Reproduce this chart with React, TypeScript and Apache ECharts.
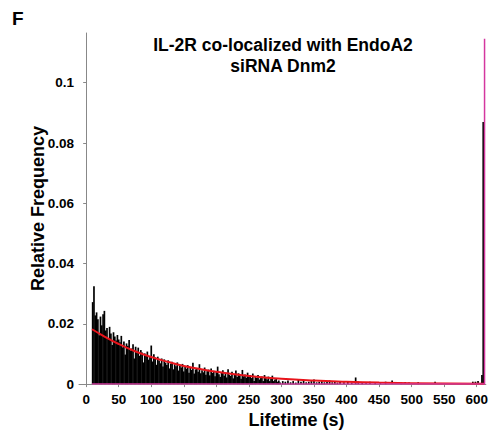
import React, { useEffect, useRef } from "react";
import * as echarts from "echarts";

// Histogram, 2 s bins, first bin centred at 10 s
const binStart = 10;
const binWidth = 2;
const earlyFreq = [
  0.0272, 0.0325, 0.0228, 0.0238, 0.0215, 0.0162, 0.0224, 0.0195, 0.0232, 0.0243,
  0.0178, 0.0186, 0.0152, 0.019, 0.0168, 0.013, 0.0172, 0.0158, 0.0145, 0.0163,
  0.0148, 0.0139, 0.016, 0.0122, 0.0141, 0.0098, 0.0135, 0.0127, 0.0146, 0.0112,
  0.0118, 0.0132, 0.0085, 0.0124, 0.0109, 0.0121, 0.0094, 0.0113, 0.0105, 0.0072,
  0.0102, 0.0096, 0.0108, 0.0081, 0.0092, 0.0128, 0.0075, 0.0099, 0.0088, 0.0064,
  0.0091, 0.0078, 0.0069, 0.0085, 0.0058, 0.0082, 0.0071, 0.0063, 0.0079, 0.0052,
  0.0068, 0.0074, 0.0049, 0.0066, 0.0059, 0.0072, 0.0045, 0.0061, 0.0055, 0.0067,
  0.0042, 0.0058, 0.0051, 0.0063, 0.0038, 0.0054, 0.0047, 0.0071, 0.0035, 0.0049,
  0.0052, 0.0041, 0.0066, 0.0036, 0.0046, 0.0039, 0.0055, 0.0031, 0.0043, 0.0048,
  0.0029, 0.0052, 0.0037, 0.0044, 0.0026, 0.0041, 0.0058, 0.0033, 0.0024, 0.0038,
  0.0046, 0.0028, 0.0035, 0.0022, 0.0049, 0.0031, 0.0027, 0.0041, 0.0019, 0.0033,
  0.0045, 0.0024, 0.0036, 0.0029, 0.0018, 0.0047, 0.0026, 0.0032, 0.0021, 0.0038,
  0.0028,
];
// Sparse tail bins (bin centre in s, relative frequency)
const tailTimes = [
  252, 254, 256, 258, 260, 262, 264, 266, 268, 270, 272, 274, 276, 278, 280, 282, 284, 286, 288, 290,
  292, 294, 296, 298, 302, 306, 310, 314, 318, 322, 326, 330, 334, 338, 342, 346, 350, 354, 358, 362,
  366, 370, 374, 378, 382, 386, 390, 396, 402, 408, 414, 418, 424, 430, 436, 444, 452, 460, 470, 476,
  484, 490, 496, 510, 536, 594, 598, 602, 608, 610,
];
const tailFreq = [
  0.003, 0.002, 0.0035, 0.001, 0.0025, 0.002, 0.003, 0.0015, 0.002, 0.0025, 0.001, 0.003, 0.002, 0.0015, 0.0025, 0.001, 0.002, 0.0028, 0.001, 0.0015,
  0.002, 0.0008, 0.0012, 0.0005, 0.001, 0.0008, 0.0012, 0.0006, 0.001, 0.0005, 0.0015, 0.0008, 0.0012, 0.0006, 0.0008, 0.001, 0.0015, 0.0006, 0.0008, 0.001,
  0.0006, 0.0008, 0.0012, 0.0006, 0.0008, 0.0005, 0.0008, 0.0006, 0.0008, 0.0005, 0.0022, 0.0008, 0.0006, 0.0005, 0.0008, 0.0006, 0.0006, 0.0008, 0.0012, 0.0006,
  0.0005, 0.0006, 0.0005, 0.0006, 0.0008, 0.0008, 0.0008, 0.001, 0.003, 0.087,
];
// Exponential fit (red)
const fitTimes = [9, 25, 50, 75, 100, 125, 150, 175, 200, 250, 300, 350, 400, 450, 500, 612];
const fitFreq = [0.0182, 0.0162, 0.0133, 0.0109, 0.009, 0.0074, 0.006, 0.005, 0.0041, 0.0027, 0.0018, 0.0012, 0.0008, 0.0005, 0.0003, 0.0001];
// Magenta trace: flat at zero, spike in the last bin
const magentaTimes = [9, 612, 612];
const magentaFreq = [0, 0, 0.1146];

const xTicks = [0, 50, 100, 150, 200, 250, 300, 350, 400, 450, 500, 550, 600];
const yTicks = [0, 0.02, 0.04, 0.06, 0.08, 0.1];

const FONT = "'Liberation Sans', Arial, Helvetica, sans-serif";

export default function App() {
  const ref = useRef<HTMLDivElement>(null);
  useEffect(() => {
    if (!ref.current) return;
    const chart = echarts.init(ref.current, undefined, { renderer: "svg" });
    const histData: [number, number][] = [];
    earlyFreq.forEach((v, i) => histData.push([binStart + i * binWidth, v]));
    tailTimes.forEach((t, i) => histData.push([t, tailFreq[i]]));
    chart.setOption({
      animation: false,
      backgroundColor: "#ffffff",
      grid: { left: 79, right: 4, top: 33, bottom: 42, containLabel: false },
      xAxis: {
        type: "value",
        min: -11,
        max: 614,
        name: "Lifetime (s)",
        nameLocation: "middle",
        nameGap: 19,
        nameTextStyle: { fontFamily: FONT, fontWeight: "bold", fontSize: 18, color: "#000", padding: [0, 0, 0, 28] },
        axisLine: { show: true, lineStyle: { color: "#888", width: 1 } },
        axisTick: { show: true, length: 3, customValues: xTicks, lineStyle: { color: "#888" } },
        axisLabel: { customValues: xTicks, fontFamily: FONT, fontWeight: "bold", fontSize: 13.5, color: "#000", margin: 8 },
        splitLine: { show: false },
      },
      yAxis: {
        type: "value",
        min: 0,
        max: 0.1165,
        name: "Relative Frequency",
        nameLocation: "middle",
        nameGap: 32,
        nameMoveOverlap: false,
        nameRotate: 90,
        nameTextStyle: { fontFamily: FONT, fontWeight: "bold", fontSize: 18, color: "#000" },
        axisLine: { show: true, lineStyle: { color: "#888", width: 1 } },
        axisTick: { show: true, length: 3, customValues: yTicks, lineStyle: { color: "#888" } },
        axisLabel: {
          customValues: yTicks,
          fontFamily: FONT,
          fontWeight: "bold",
          fontSize: 13.5,
          color: "#000",
          margin: 5,
          formatter: (v: number) => (v === 0 ? "0" : String(+v.toFixed(2))),
        },
        splitLine: { show: false },
      },
      graphic: [
        {
          type: "text",
          x: 12,
          y: 9,
          style: { text: "F", font: `bold 19px ${FONT}`, fill: "#000" },
        },
        {
          type: "text",
          x: 283,
          y: 34,
          style: {
            text: "IL-2R co-localized with EndoA2\nsiRNA Dnm2",
            font: `bold 17.5px ${FONT}`,
            fill: "#000",
            textAlign: "center",
            lineHeight: 21,
          },
        },
      ],
      series: [
        {
          type: "bar",
          data: histData,
          barWidth: 1.7,
          itemStyle: { color: "#000" },
          silent: true,
        },
        {
          type: "line",
          data: fitTimes.map((t, i) => [t, fitFreq[i]]),
          smooth: true,
          symbol: "none",
          lineStyle: { color: "#e8141b", width: 2 },
          silent: true,
        },
        {
          type: "line",
          data: magentaTimes.map((t, i) => [t, magentaFreq[i]]),
          symbol: "none",
          lineStyle: { color: "#d4379f", width: 1.5 },
          silent: true,
        },
      ],
    });
    return () => chart.dispose();
  }, []);
  return <div ref={ref} style={{ width: 491, height: 434, position: "absolute", left: 0, top: 0 }} />;
}
